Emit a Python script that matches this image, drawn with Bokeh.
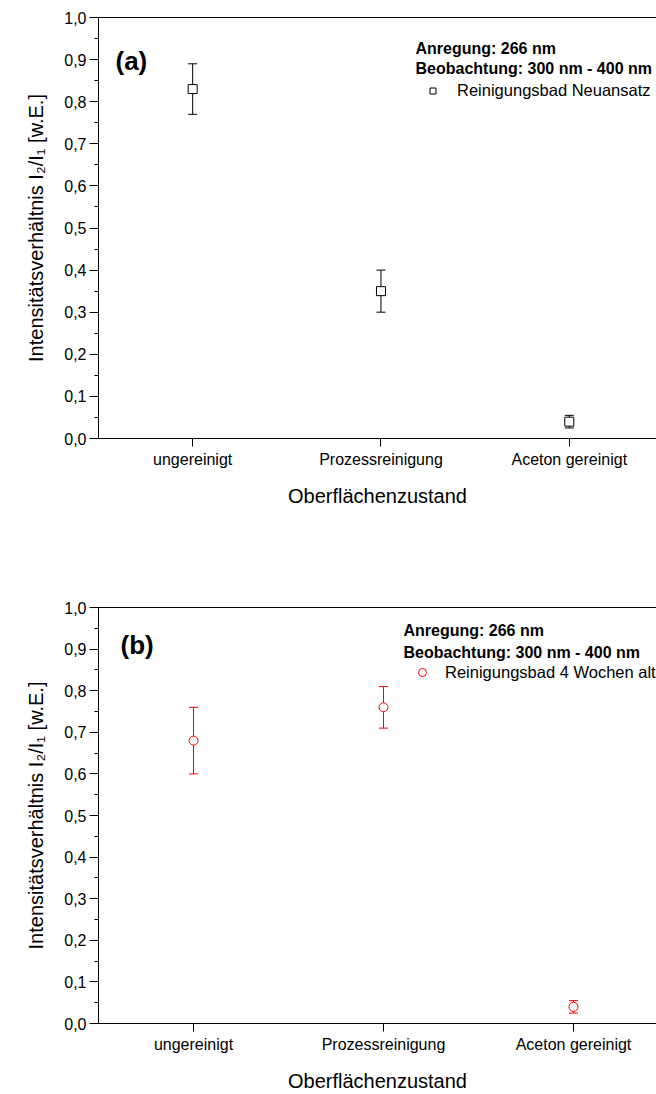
from bokeh.plotting import figure
from bokeh.models import (Range1d, LinearAxis, FixedTicker, SingleIntervalTicker,
                          CustomJSTickFormatter, Whisker, TeeHead, ColumnDataSource,
                          Label, Legend, LegendItem)
from bokeh.layouts import column
from bokeh.embed import file_html
from bokeh.resources import INLINE

# ---------------- data ----------------
categories = ["ungereinigt", "Prozessreinigung", "Aceton gereinigt"]
values_a = [0.83, 0.35, 0.04]
errors_a = [0.06, 0.05, 0.015]
values_b = [0.68, 0.76, 0.04]
errors_b = [0.08, 0.05, 0.015]
legend_a = "Reinigungsbad Neuansatz"
legend_b = "Reinigungsbad 4 Wochen alt"
header_lines = ["Anregung: 266 nm", "Beobachtung: 300 nm - 400 nm"]
x_title = "Oberflächenzustand"
y_title = "Intensitätsverhältnis I\u2082/I\u2081 [w.E.]"
y_min, y_max, y_step = 0.0, 1.0, 0.1

FONT = "Liberation Sans"
W = 656


def make_panel(values, errors, color, marker, legend_label, tag,
               height, left, top, bottom, tag_pos, header_pos, legend_pos,
               legend_glyph, legend_standoff):
    cat_px = 190.0
    frame_w = W - left
    xs = list(range(1, len(categories) + 1))
    x_end = 0.5 + frame_w / cat_px
    p = figure(width=W, height=height, x_range=Range1d(0.5, x_end),
               y_range=Range1d(y_min, y_max), output_backend="svg",
               toolbar_location=None, min_border_left=left, min_border_right=0,
               min_border_top=top, min_border_bottom=bottom,
               outline_line_color=None, background_fill_color="white",
               border_fill_color="white")
    p.xgrid.visible = False
    p.ygrid.visible = False

    # y axis
    ya = p.yaxis[0]
    ya.ticker = SingleIntervalTicker(interval=y_step, num_minor_ticks=2)
    ya.formatter = CustomJSTickFormatter(code="return tick.toFixed(1).replace('.', ',');")
    ya.major_tick_out = 9
    ya.major_tick_in = 0
    ya.minor_tick_out = 4
    ya.minor_tick_in = 0
    ya.major_label_standoff = 3
    ya.major_label_text_font = FONT
    ya.major_label_text_font_size = "16px"
    ya.major_label_text_color = "black"
    ya.axis_label = y_title
    ya.axis_label_text_font = FONT
    ya.axis_label_text_font_size = "20px"
    ya.axis_label_text_font_style = "normal"
    ya.axis_label_text_color = "black"
    ya.axis_label_standoff = 14
    ya.axis_line_color = "black"
    ya.major_tick_line_color = "black"
    ya.minor_tick_line_color = "black"

    # x axis
    xa = p.xaxis[0]
    xa.ticker = FixedTicker(ticks=xs)
    xa.major_label_overrides = {i: c for i, c in zip(xs, categories)}
    xa.major_tick_out = 8
    xa.major_tick_in = 0
    xa.minor_tick_line_color = None
    xa.major_label_standoff = 4
    xa.major_label_text_font = FONT
    xa.major_label_text_font_size = "16px"
    xa.major_label_text_color = "black"
    xa.axis_label = x_title
    xa.axis_label_text_font = FONT
    xa.axis_label_text_font_size = "20px"
    xa.axis_label_text_font_style = "normal"
    xa.axis_label_text_color = "black"
    xa.axis_label_standoff = 14
    xa.axis_line_color = "black"
    xa.major_tick_line_color = "black"

    # top frame line
    top_axis = LinearAxis(ticker=FixedTicker(ticks=[]), major_tick_out=0, major_tick_in=0,
                          minor_tick_out=0, minor_tick_in=0, major_label_text_font_size="0px",
                          major_label_standoff=0, axis_line_color="black")
    p.add_layout(top_axis, "above")

    src = ColumnDataSource(dict(
        x=xs, y=values,
        upper=[v + e for v, e in zip(values, errors)],
        lower=[v - e for v, e in zip(values, errors)],
    ))
    wh = Whisker(source=src, base="x", upper="upper", lower="lower",
                 line_color=color, line_width=1, level="underlay",
                 upper_head=TeeHead(size=9, line_color=color, line_width=1),
                 lower_head=TeeHead(size=9, line_color=color, line_width=1))
    p.add_layout(wh)
    r = p.scatter("x", "y", source=src, marker=marker, size=9, fill_color="white",
                  line_color=color, line_width=1)

    p.add_layout(Label(x=tag_pos[0], y=tag_pos[1], x_units="screen", y_units="screen",
                       text=tag, text_font=FONT, text_font_style="bold",
                       text_font_size="26px", text_baseline="middle", text_color="black"))
    for i, line in enumerate(header_lines):
        p.add_layout(Label(x=header_pos[0], y=header_pos[1] - i * header_pos[2],
                           x_units="screen", y_units="screen", text=line,
                           text_font=FONT, text_font_style="bold", text_font_size="16px",
                           text_baseline="middle", text_color="black"))
    leg = Legend(items=[LegendItem(label=legend_label, renderers=[r])],
                 location=legend_pos, glyph_width=legend_glyph, glyph_height=legend_glyph,
                 label_standoff=legend_standoff, padding=0, margin=0, spacing=0,
                 border_line_color=None, background_fill_alpha=0,
                 label_text_font=FONT, label_text_font_size="16.5px",
                 label_text_color="black")
    p.add_layout(leg)
    return p


p1 = make_panel(values_a, errors_a, "black", "square", legend_a, "(a)",
                height=580, left=93, top=17, bottom=142,
                tag_pos=(17, 378), header_pos=(317, 390, 20),
                legend_pos=(327, 338), legend_glyph=15, legend_standoff=17)
p2 = make_panel(values_b, errors_b, "#ff0000", "circle", legend_b, "(b)",
                height=514, left=98, top=27, bottom=67,
                tag_pos=(22, 379), header_pos=(305, 393, 22),
                legend_pos=(314, 341), legend_glyph=20, legend_standoff=13)

layout = column(p1, p2, spacing=0)
open("out.html", "w").write(file_html(layout, INLINE))
